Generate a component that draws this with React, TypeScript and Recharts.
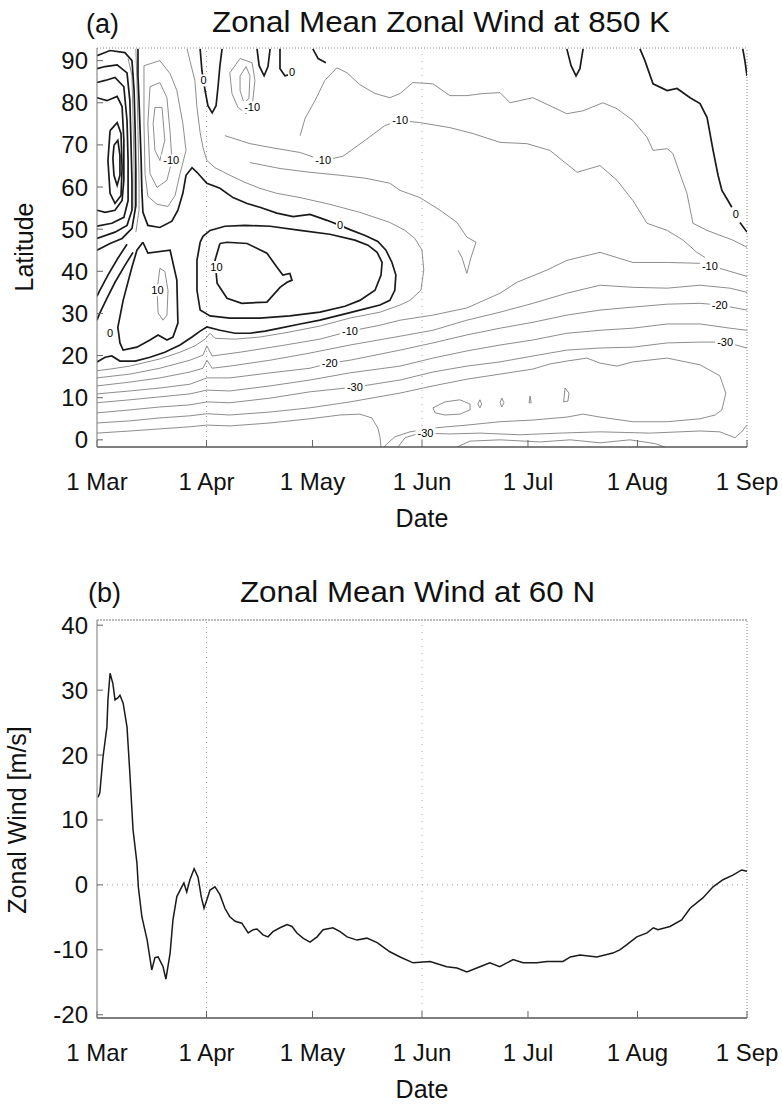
import React from 'react'
import { LineChart, Line, XAxis, YAxis, ReferenceLine, ReferenceDot } from 'recharts'

const FONT = '"Liberation Sans", Arial, Helvetica, sans-serif'

// x axis is days since 1 March
const monthTicks = [0, 31, 61, 92, 122, 153, 184]
const monthNames = ['1 Mar', '1 Apr', '1 May', '1 Jun', '1 Jul', '1 Aug', '1 Sep']
const latTicks = [0, 10, 20, 30, 40, 50, 60, 70, 80, 90]
const windTicks = [-20, -10, 0, 10, 20, 30, 40]

type Pt = [number, number] // [day, latitude]

// ---- panel (a): contours, thick = zero / westerly ----
const zeroContour: Pt[] = [[0,18.5],[2.3,19.6],[4.2,19.9],[6.5,18.7],[10.8,18.7],[15,19.6],[19.2,20.8],[23.5,22.5],[26.9,24.4],[29.2,25.8],[31.1,26.8],[34.8,26],[39.1,25.3],[43.3,25.3],[47.6,25.8],[51.8,26.5],[57.5,27.5],[63.1,28.4],[68.8,29.6],[74.4,30.8],[80.1,32],[82.9,33.1],[84.3,35.5],[84.6,39.1],[83.5,42.1],[81.8,45],[79.5,47.1],[75.9,48.5],[71.6,49.9],[68.8,50.9],[65.1,52.1],[60.3,53.5],[55.5,53],[50.9,53.8],[46.1,55.2],[42.5,56.1],[38.5,57.5],[34.8,59.7],[31.1,60.9],[28.3,63.5],[26.9,64.6],[25.2,62.8],[24.3,58.5],[22.9,54.5],[21.2,51.9],[17.8,50.4],[14.4,50.9],[13,54],[12.7,59.2],[12.5,66.3],[12.2,73.4],[11.9,80.5],[11.6,86.4],[11.6,92.8]]
const fivePosLobe: Pt[] = [[29.2,46.9],[28.3,42.6],[28.3,35.5],[29.2,30.8],[32,29.4],[37.6,28.9],[46.1,28.9],[54.6,29.4],[63.1,30.3],[70.2,31.7],[74.4,33.1],[78.7,35.5],[80.4,39.1],[80.7,42.1],[79.3,44.5],[76.7,46.2],[73,47.4],[65.9,48.8],[57.5,49.7],[49,50.7],[41.9,50.9],[36.2,50.7],[32,49.7],[30,48.3],[29.2,46.9]]
const tenPosLobe: Pt[] = [[34.8,46.6],[33.4,42.6],[34,37.2],[36.8,33.6],[41,32.4],[48.1,32.7],[51.8,36.2],[53.8,37.4],[55.2,37.9],[54.6,39.5],[52.6,39.1],[50.9,41],[48.1,44.3],[42.5,46.6],[36.8,46.9],[34.8,46.6]]
const marchLobe: Pt[] = [[13,46.9],[14.4,44.3],[20.7,45],[22.6,37.9],[22.9,27.7],[21.5,24.4],[19.8,23.7],[17.3,24.9],[15,23.7],[11.3,22],[7.4,21.3],[6.5,23],[5.9,26.7],[7.4,33.1],[9.9,41],[11.3,45],[13,46.9]]
const marchLobeCore: Pt[] = [[17.8,40.7],[19.2,40],[20.1,35.5],[19.8,29.6],[18.7,28.4],[17.3,30.1],[17,35.5],[17.8,40.7]]
const jetRing1: Pt[] = [[0,91.2],[3.7,92.4],[7.9,91.9],[9.9,90],[10.5,82.9],[10.8,73.4],[11,63.9],[11,55.6],[9.9,50.2],[7.1,47.8],[3.7,46.6],[0,45]]
const jetRing2: Pt[] = [[0,88.1],[2.3,88.6],[5.7,89],[8.5,87.1],[9.3,80.5],[9.6,71.1],[9.9,61.6],[9.9,54.5],[8.5,50.9],[5.1,49.3],[0,47.8]]
const jetRing3: Pt[] = [[0,84.8],[2.3,85.3],[5.1,86],[7.6,83.8],[8.5,75.8],[8.8,66.3],[8.8,56.8],[7.6,52.8],[4.2,51.4],[0,50.7]]
const jetRing4: Pt[] = [[0,81.2],[2.8,80.5],[5.7,81.5],[7.1,79.1],[7.6,71.1],[7.6,61.6],[7.1,56.8],[5.1,54.5],[2.3,54],[0,54.5]]
const jetCore1: Pt[] = [[3.7,73.4],[5.7,75.3],[6.8,72.7],[7.1,64.6],[6.8,58],[5.1,56.1],[3.7,58.5],[3.1,66.3],[3.7,73.4]]
const jetCore2: Pt[] = [[4.8,69.9],[5.9,71.1],[6.5,67.5],[6.5,62.8],[5.7,60.4],[4.8,62.8],[4.5,66.8],[4.8,69.9]]
const jetTail1: Pt[] = [[8.5,46.4],[5.9,43.1],[3.1,39.1],[0.8,35.5],[0,34.1]]
const jetTail2: Pt[] = [[10.2,44.5],[7.9,41.4],[5.1,37.4],[2.8,33.6],[0.8,30.1],[0,28.4]]
const zeroEast: Pt[] = [[153.7,92.8],[155.1,90],[157.4,84.5],[161.4,82.9],[164.2,83.4],[167.9,81.2],[170.7,79.8],[172.7,76.5],[174.4,68.7],[175.8,62.8],[176.9,59.2],[178.6,56.8],[179.7,55.2]]
const zeroEastEnd: Pt[] = [[182,51.6],[184,49.3]]
const zeroEdge: Pt[] = [[182.8,92.8],[183.4,90],[184,86.4]]
const topLoop1: Pt[] = [[29.2,92.8],[29.7,87.6],[30.6,82.9],[31.4,79.3],[32.6,77.6],[33.7,79.3],[34.3,84.1],[34.8,88.8],[35.4,92.8]]
const topLoop2: Pt[] = [[45.3,92.8],[45.9,88.8],[47.3,86.4],[48.4,88.6],[49,92.8]]
const topLoop3: Pt[] = [[51.8,92.8],[51.8,88.1],[53.2,86.4],[55.5,86.9]]
const topLoop4: Pt[] = [[61.1,92.8],[62.6,90.5],[64.8,89.5]]
const topLoop5: Pt[] = [[133,92.8],[134.2,88.8],[135.6,86.4],[136.7,88.1],[137.6,92.8]]

// easterly (negative) contours, thin
const denseBand1: Pt[] = [[11,92.8],[11.3,85.3],[11.6,73.4],[11.9,61.6],[11.9,54.5],[11,49.3]]
const denseBand2: Pt[] = [[8.8,90.5],[9.9,86.4],[10.2,75.8],[10.5,63.9],[10.5,54.9]]
const polarLow1: Pt[] = [[13.3,88.8],[17.8,90],[20.7,86.9],[22.6,82.9],[24.3,75.1],[25.2,68.7],[23.5,63.2],[22.1,58],[20.1,55.4],[17,55.9],[14.4,57.8],[13.6,63.2],[13.3,75.1],[13.3,88.8]]
const polarLow2: Pt[] = [[15,83.8],[17.8,84.8],[19.8,81.2],[20.7,72.9],[21.2,66.3],[19.8,61.6],[17,59.9],[15,63.2],[14.4,75.1],[15,83.8]]
const polarLow3: Pt[] = [[16.4,78.9],[18.4,78.9],[19.2,71.1],[17.8,66.3],[16.4,68.7],[15.9,75.1],[16.4,78.9]]
const aprilOval1: Pt[] = [[37.6,87.1],[40.5,90.5],[43.9,89.5],[44.7,85.3],[43.9,78.9],[42.2,77.4],[39.9,78.9],[38.2,82.2],[37.6,87.1]]
const aprilOval2: Pt[] = [[40.5,86.4],[42.2,88.6],[43.3,86.4],[43,81],[41.6,80],[40.5,82.9],[40.5,86.4]]
const minus5: Pt[] = [[25.5,92.8],[26.3,90],[27.7,85.3],[28.3,78.9],[29.2,72.9],[30,69.4],[31.1,66.3],[33.4,64.6],[37.6,62.8],[41.9,61.1],[46.1,59.7],[50.9,58.5],[57.5,57.5],[65.9,55.9],[74.4,54],[82.9,51.6],[87.2,49.7],[90,47.8],[92,45],[92.5,40.3],[91.7,35.5],[88.6,33.1],[85.8,32],[80.1,30.3],[71.6,28.9],[63.1,27],[54.6,25.6],[46.1,24.4],[39.1,23.9],[33.4,24.1],[32,25.3],[30.6,23.9],[27.7,22.3],[23.5,20.8],[17.8,19.2],[9.3,17.5],[3.7,16.8],[0,16.4]]
const minus10North: Pt[] = [[36.2,72.2],[43.3,70.3],[50.4,69.2],[57.5,68.2],[64,66.3],[69.6,67.3],[75.9,71.1],[81.5,74.6],[85.8,75.8],[91.4,75.3],[99.9,74.1],[106.4,72.7],[114.1,70.6],[121.7,70.3],[128.2,68.7],[135.9,63.5],[142.4,65.1],[147.2,61.6],[151.7,56.8],[155.7,51.4],[161.4,49.7],[165.9,47.4],[169.8,44.5],[172.1,43.3]]
const minus15North: Pt[] = [[43.3,65.8],[51.8,64.4],[60.3,63.5],[68.8,62.8],[75.9,62.1],[82.9,60.9],[85.8,59.2],[91.4,57.5],[97.1,54.5],[101.9,51.6],[104.7,48.1],[107.3,46.9],[105.8,43.1],[104.7,39.5],[103.3,43.3],[102.2,45]]
const upperNorth: Pt[] = [[57.5,72.2],[58.9,76.3],[61.7,80.5],[64.5,85.3],[67.9,88.3],[70.8,87.1],[74.4,84.3],[78.7,82.2],[82.9,81.2],[85.8,82.2],[89.4,84.8],[95.1,84.5],[99.9,81.7],[104.7,81.7],[109.3,82.2],[114.1,82.4],[116.9,80],[123.4,81.2],[128.2,79.3],[133,77.4],[137.6,78.1],[143.2,80],[147.2,78.6],[151.7,75.8],[155.7,71.8],[157.4,68.7],[161.4,69.1],[163,68],[165,63.2],[167,58.5],[168.7,51.4],[172.7,49.7],[180,47.4],[184,45.7]]
const trop10: Pt[] = [[0,14.7],[9.3,15.6],[17.8,17],[26.3,18.9],[30,20.1],[31.1,22.3],[32.6,19.9],[40.5,20.8],[51.8,22.3],[63.1,23.9],[71.6,25.8],[80.1,27.2],[85.8,28.4],[95.1,29.6],[104.7,31.3],[114.1,34.8],[118.9,37.4],[127.4,40.3],[133,42.6],[142.4,44.5],[151.7,42.1],[161.4,42.1],[170.7,41.9],[176.3,40.7],[184,38.8]]
const trop15: Pt[] = [[0,12.8],[9.3,13.7],[17.8,14.7],[26.3,16.1],[30,17],[31.1,18.9],[32.6,17],[37.6,17.5],[49,18.9],[60.3,20.6],[71.6,22.5],[85.8,24.6],[95.1,26],[104.7,28.4],[114.1,30.3],[123.4,32.4],[133,34.8],[142.4,36.7],[151.7,36.2],[161.4,36],[170.7,36.7],[179.2,36],[184,35]]
const trop20: Pt[] = [[0,10.9],[9.3,11.6],[17.8,12.3],[26.3,13.2],[31.1,14.7],[37.6,14.7],[49,15.9],[60.3,17],[65.9,18.2],[71.6,18.9],[85.8,21.3],[95.1,23],[104.7,24.9],[114.1,26.5],[123.4,27.9],[133,29.6],[142.4,30.8],[151.7,31.5],[161.4,32.2],[170.7,32.4],[176.3,32],[184,30.8]]
const trop25: Pt[] = [[0,8.8],[9.3,9.5],[17.8,10.2],[26.3,10.9],[31.1,11.8],[37.6,11.6],[49,12.8],[60.3,14.2],[71.6,15.9],[85.8,17.5],[95.1,19.4],[104.7,21.1],[114.1,22.5],[123.4,23.7],[133,25.3],[142.4,26],[151.7,26.5],[161.4,27.5],[170.7,27.5],[179.2,26.5],[184,26]]
const trop30: Pt[] = [[0,6.4],[9.3,7.1],[17.8,7.8],[26.3,8.3],[31.1,9],[37.6,8.8],[49,9.9],[60.3,11.4],[73,12.5],[85.8,14.2],[95.1,16.1],[104.7,17.5],[114.1,18.5],[123.4,19.9],[133,21.3],[142.4,21.8],[151.7,22],[161.4,23],[170.7,23.2],[177.8,23.2],[184,21.8]]
const trop35: Pt[] = [[0,4],[9.3,4.5],[17.8,5.2],[26.3,5.7],[31.1,6.2],[37.6,5.9],[49,6.6],[60.3,7.6],[71.6,9],[85.8,11.1],[95.1,12.8],[104.7,14.4],[114.1,15.6],[123.4,16.8],[128.2,18],[133,18.7],[138.7,19.4],[142.4,18.2],[147.2,17.5],[151.7,18.5],[161.4,19.4],[170.7,17.8],[176.3,15.2],[178,11.1],[176.9,7.1],[175,5.9],[170.7,5],[161.4,4.3],[151.7,4.3],[142.4,5.4],[137.6,6.1],[133,5.4],[123.4,4.7],[114.1,4.3],[104.7,3.5],[95.1,2.8],[88.6,1.9],[84.3,0.7],[82.4,-0.7],[81.2,-1.7]]
const trop40: Pt[] = [[0,1.6],[9.3,2.1],[17.8,2.6],[26.3,3.1],[31.1,3.5],[37.6,3.3],[49,4],[60.3,5],[68.8,5.9],[74.4,6.1],[77.8,5.2],[79.5,2.8],[80.1,0.7],[80.4,-1.7]]
const south30: Pt[] = [[85.2,-1.7],[87.2,0.5],[91.4,1.6],[99.9,1.4],[108.4,1.6],[119.7,1.2],[131,1.6],[142.4,1.9],[156.5,1.6],[170.7,2.1],[176.3,1.9],[180.6,0.5],[182.5,1.9],[184,3.5]]
const south35: Pt[] = [[101.9,-1.7],[105.6,-0.3],[114.1,0],[125.4,-0.5],[133.9,0],[142.4,-0.7],[150.9,0],[158,-0.9],[160.8,-1.7]]
const core1: Pt[] = [[95.1,7.6],[98.5,9],[102.7,9.5],[105.6,8.5],[105.6,7.1],[102.7,6.1],[98.5,5.9],[95.7,6.4],[95.1,7.6]]
const core2: Pt[] = [[108.4,9.5],[108.9,8.5],[108.4,7.6],[107.8,8.5],[108.4,9.5]]
const core3: Pt[] = [[114.6,9.9],[115.2,8.8],[114.6,7.8],[114.1,8.8],[114.6,9.9]]
const core4: Pt[] = [[122.6,10.4],[122.9,8.8],[122.3,8.8],[122.6,10.4]]
const core5: Pt[] = [[132.5,12.3],[133.6,11.1],[133.3,9.2],[132.1,9],[132.5,12.3]]

const thickContours = [zeroContour, fivePosLobe, tenPosLobe, marchLobe, jetRing1, jetRing2, jetRing3, jetRing4, jetCore1, jetCore2, jetTail1, jetTail2, zeroEast, zeroEastEnd, zeroEdge, topLoop1, topLoop2, topLoop3, topLoop4, topLoop5]
const thinContours = [marchLobeCore, denseBand1, denseBand2, polarLow1, polarLow2, polarLow3, aprilOval1, aprilOval2, minus5, minus10North, minus15North, upperNorth, trop10, trop15, trop20, trop25, trop30, trop35, trop40, south30, south35, core1, core2, core3, core4, core5]

const contourLabels = [
  { day: 64, lat: 66.3, text: '-10' },
  { day: 85.8, lat: 75.8, text: '-10' },
  { day: 68.8, lat: 50.9, text: '0' },
  { day: 33.8, lat: 41, text: '10' },
  { day: 17.1, lat: 35.5, text: '10' },
  { day: 3.7, lat: 25.3, text: '0' },
  { day: 21, lat: 66.3, text: '-10' },
  { day: 43.9, lat: 79, text: '-10' },
  { day: 30.2, lat: 85.3, text: '0' },
  { day: 55.2, lat: 87.2, text: '0' },
  { day: 71.6, lat: 25.8, text: '-10' },
  { day: 65.9, lat: 18.2, text: '-20' },
  { day: 73, lat: 12.5, text: '-30' },
  { day: 173.5, lat: 41.3, text: '-10' },
  { day: 176.3, lat: 32, text: '-20' },
  { day: 177.8, lat: 23.2, text: '-30' },
  { day: 93, lat: 1.6, text: '-30' },
  { day: 180.8, lat: 53.5, text: '0' },
]

// ---- panel (b): zonal mean wind at 60 N ----
const windDays = [0.3, 0.8, 1.7, 2.8, 3.1, 3.7, 4.5, 5.1, 5.9, 6.5, 7.4, 8.5, 9.3, 10.2, 11.3, 11.7, 12.7, 14.2, 15.5, 16.4, 17.3, 18.7, 19.5, 20.7, 21.5, 22.6, 24, 24.6, 25.4, 26.3, 27.5, 28.6, 29.5, 30.3, 31.1, 32, 33.4, 34.8, 36.2, 37.6, 39.1, 41, 42.8, 44.2, 45.3, 47, 48.4, 49.8, 51.8, 53.8, 55.2, 56.6, 58.3, 60.3, 62.3, 64, 66.8, 68.8, 70.8, 73.6, 76.4, 79.3, 82.9, 85.8, 89.5, 94.3, 99, 101.9, 104.7, 108.4, 111.2, 114, 117.8, 120.6, 124.5, 127.4, 131.9, 134, 136.7, 141.5, 146, 148, 150, 152.8, 155.7, 157.5, 158.8, 162.2, 165.5, 167.9, 171.5, 174.4, 177.2, 180, 182.5, 184]
const windValues = [13.5, 14.2, 19.7, 24.3, 28.5, 32.6, 31, 28.5, 28.8, 29.2, 28, 24.3, 17.2, 8.5, 3.4, -0.3, -4.9, -8.5, -13.1, -11.2, -11.1, -12.6, -14.5, -10.5, -5.4, -1.8, -0.3, 0.3, -1.1, 0.8, 2.5, 1.2, -1.8, -3.6, -2.3, -0.8, -0.3, -1.5, -3.6, -4.9, -5.6, -5.9, -7.4, -6.9, -6.8, -7.7, -8, -7.2, -6.6, -6.1, -6.4, -7.4, -8.2, -8.8, -8, -6.9, -6.6, -7.2, -8, -8.5, -8.2, -8.9, -10.3, -11.1, -12, -11.8, -12.6, -12.8, -13.4, -12.6, -12, -12.6, -11.5, -12, -12, -11.8, -11.8, -11.1, -10.8, -11.1, -10.5, -10, -9.2, -8, -7.4, -6.6, -6.9, -6.4, -5.4, -3.6, -2, -0.3, 0.8, 1.5, 2.3, 2.1]

const tickStyle = { fontSize: 24, fill: '#111', fontFamily: FONT }
const fmtMonth = (d: number) => monthNames[monthTicks.indexOf(d)] ?? ''

const toRows = (c: Pt[]) => c.map(([day, lat]) => ({ day, lat }))

const tagShape = (text: string) => (props: any) => {
  const { cx, cy } = props
  const w = text.length * 6 + 2
  return (
    <g>
      <rect x={cx - w / 2} y={cy - 6} width={w} height={12} fill="#fff" />
      <text x={cx} y={cy + 4} textAnchor="middle" fontSize={11} fontFamily={FONT} fill="#000">{text}</text>
    </g>
  )
}

// negative tickSize draws the tick marks inside the frame, as in the original
function ContourPanel() {
  return (
    <LineChart width={782} height={540} margin={{ top: 48, right: 35, bottom: 33, left: 57 }}>
      <XAxis dataKey="day" type="number" domain={[0, 184]} allowDataOverflow ticks={monthTicks} interval={0}
        tickFormatter={fmtMonth} tickSize={-7} tickMargin={33} height={60} tick={tickStyle}
        tickLine={{ stroke: '#666' }} axisLine={{ stroke: '#555', strokeWidth: 1.5 }} />
      <YAxis type="number" domain={[-1.7, 93]} allowDataOverflow ticks={latTicks} interval={0} width={40}
        tickSize={-6} tickMargin={15} tick={tickStyle} tickLine={{ stroke: '#666' }} axisLine={{ stroke: '#777' }} />
      <ReferenceLine y={93} stroke="#888" strokeDasharray="1 2" />
      <ReferenceLine x={184} stroke="#888" strokeDasharray="1 2" />
      <ReferenceLine x={31} stroke="#999" strokeDasharray="1 4" />
      <ReferenceLine x={92} stroke="#aaa" strokeDasharray="1 6" />
      {thinContours.map((c, i) => (
        <Line key={'thin' + i} data={toRows(c)} dataKey="lat" type="linear" stroke="#808080" strokeWidth={0.9}
          dot={false} activeDot={false} isAnimationActive={false} legendType="none" />
      ))}
      {thickContours.map((c, i) => (
        <Line key={'thick' + i} data={toRows(c)} dataKey="lat" type="linear" stroke="#1a1a1a" strokeWidth={1.7}
          dot={false} activeDot={false} isAnimationActive={false} legendType="none" />
      ))}
      {contourLabels.map((l, i) => (
        <ReferenceDot key={'lab' + i} x={l.day} y={l.lat} r={0} shape={tagShape(l.text)} />
      ))}
    </LineChart>
  )
}

function WindPanel() {
  const rows = windDays.map((d, i) => ({ day: d, wind: windValues[i] }))
  return (
    <LineChart width={782} height={565} data={rows} margin={{ top: 80, right: 35, bottom: 27, left: 57 }}>
      <XAxis dataKey="day" type="number" domain={[0, 184]} allowDataOverflow ticks={monthTicks} interval={0}
        tickFormatter={fmtMonth} tickSize={-7} tickMargin={33} height={60} tick={tickStyle}
        tickLine={{ stroke: '#666' }} axisLine={{ stroke: '#555', strokeWidth: 1.5 }} />
      <YAxis type="number" domain={[-20.5, 40.8]} allowDataOverflow ticks={windTicks} interval={0} width={40}
        tickSize={-6} tickMargin={15} tick={tickStyle} tickLine={{ stroke: '#666' }} axisLine={{ stroke: '#777' }} />
      <ReferenceLine y={40.8} stroke="#777" strokeDasharray="2 1" />
      <ReferenceLine x={184} stroke="#888" strokeDasharray="1 2" />
      <ReferenceLine x={31} stroke="#999" strokeDasharray="1 4" />
      <ReferenceLine x={92} stroke="#aaa" strokeDasharray="1 6" />
      <ReferenceLine y={0} stroke="#999" strokeDasharray="1 4" />
      <Line dataKey="wind" type="linear" stroke="#1a1a1a" strokeWidth={1.5} dot={false} activeDot={false}
        isAnimationActive={false} legendType="none" />
    </LineChart>
  )
}

export default function App() {
  return (
    <div style={{ position: 'absolute', left: 0, top: 0, width: 782, height: 1105, background: '#fff', fontFamily: FONT }}>
      <div style={{ position: 'absolute', left: 0, top: 0 }}>
        <ContourPanel />
      </div>
      <div style={{ position: 'absolute', left: 0, top: 540 }}>
        <WindPanel />
      </div>
      <svg width={782} height={1105} style={{ position: 'absolute', left: 0, top: 0, pointerEvents: 'none' }}
        fontFamily={FONT} fill="#111">
        <text x={86} y={33} fontSize={27}>(a)</text>
        <text x={212} y={32} fontSize={30} textLength={458} lengthAdjust="spacingAndGlyphs">Zonal Mean Zonal Wind at 850 K</text>
        <text x={422} y={527} fontSize={25} textAnchor="middle">Date</text>
        <text transform="translate(33,247) rotate(-90)" fontSize={25} textAnchor="middle">Latitude</text>
        <text x={88} y={602} fontSize={27}>(b)</text>
        <text x={240} y={602} fontSize={30} textLength={355} lengthAdjust="spacingAndGlyphs">Zonal Mean Wind at 60 N</text>
        <text x={422} y={1098} fontSize={25} textAnchor="middle">Date</text>
        <text transform="translate(26,820) rotate(-90)" fontSize={25} textAnchor="middle">Zonal Wind [m/s]</text>
      </svg>
    </div>
  )
}
